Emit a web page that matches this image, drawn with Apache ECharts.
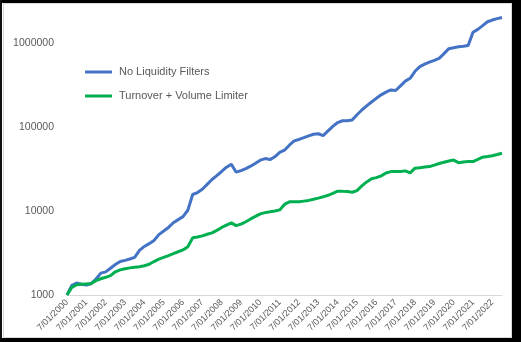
<!DOCTYPE html>
<html>
<head>
<meta charset="utf-8">
<script src="https://cdn.jsdelivr.net/npm/echarts@6/dist/echarts.min.js"></script>
<style>
html,body{margin:0;padding:0;background:#fff;}
#c{width:521px;height:342px;}
</style>
</head>
<body>
<div id="c"></div>
<script>
// Quarterly categories from 7/01/2000 to 1/01/2023
const startYear = 2000;
const quarterMonths = [7, 10, 1, 4];
const categories = [];
for (let i = 0; i < 91; i++) {
  const m = quarterMonths[i % 4];
  const y = startYear + Math.floor((i + 2) / 4);
  categories.push(m + '/01/' + y);
}

const seriesNames = ['No Liquidity Filters', 'Turnover + Volume Limiter'];

const noLiquidity = [
  1000,1302,1391,1345,1318,1364,1552,1825,1887,2083,
  2306,2504,2588,2690,2810,3405,3792,4095,4470,5243,
  5787,6390,7271,7917,8598,10250,15780,16630,18200,20830,
  23830,26520,29690,33410,36280,29120,30430,32060,34340,37190,
  40500,42320,41170,44460,50040,53300,61150,68820,71520,75140,
  78960,82500,83630,79620,90330,102500,113800,119600,119700,121900,
  141000,160500,179600,199800,221300,243600,262400,278700,274200,311900,
  354900,383200,464700,528800,566200,598200,628600,662200,755500,864700,
  888700,910900,925900,943600,1357000,1469000,1627000,1810000,1897000,1971000,
  2037000
];

const turnoverVolume = [
  1000,1232,1327,1342,1357,1371,1485,1561,1626,1704,
  1892,1993,2060,2106,2141,2170,2231,2325,2504,2674,
  2810,2953,3110,3278,3443,3760,4801,4908,5073,5300,
  5508,5901,6390,6807,7251,6714,6998,7473,8071,8646,
  9260,9596,9809,10050,10340,12020,12910,12980,12900,13160,
  13420,13830,14290,14810,15440,16310,17280,17200,17140,16810,
  17560,19980,22300,24290,25110,26300,28490,29610,29600,29600,
  30180,28560,32500,32950,33500,33960,35390,36980,38320,39610,
  40610,37800,38430,38970,39000,41400,43980,44840,45830,47360,
  49080
];

const yMin = 1000;
const yMax = 2500000;

const chart = echarts.init(document.getElementById('c'), null, {renderer: 'canvas'});
chart.setOption({
  animation: false,
  backgroundColor: '#ffffff',
  textStyle: {fontFamily: 'Liberation Sans, Arial, sans-serif'},
  grid: {left: 67, right: 19, top: 10, height: 285, containLabel: false},
  legend: {
    orient: 'vertical',
    left: 85,
    top: 65,
    padding: 0,
    itemGap: 10,
    itemWidth: 27,
    itemHeight: 3,
    icon: 'rect',
    textStyle: {color: '#595959', fontSize: 11, lineHeight: 14, padding: [0, 0, 0, 2], fontFamily: 'Liberation Sans, Arial, sans-serif'},
    data: seriesNames
  },
  xAxis: {
    type: 'category',
    data: categories,
    boundaryGap: false,
    axisLine: {show: true, lineStyle: {color: '#d9d9d9', width: 1}},
    axisTick: {show: false},
    splitLine: {show: false},
    axisLabel: {
      interval: 3,
      rotate: 45,
      margin: 6,
      color: '#595959',
      fontSize: 9,
      fontFamily: 'Liberation Sans, Arial, sans-serif'
    }
  },
  yAxis: {
    type: 'log',
    logBase: 10,
    min: yMin,
    max: yMax,
    axisLine: {show: false},
    axisTick: {show: false},
    splitLine: {show: false},
    axisLabel: {
      showMaxLabel: false,
      margin: 13,
      color: '#595959',
      fontSize: 10.5,
      fontFamily: 'Liberation Sans, Arial, sans-serif',
      formatter: function (v) { return String(Math.round(v)); }
    }
  },
  series: [
    {
      name: seriesNames[0],
      type: 'line',
      data: noLiquidity,
      showSymbol: false,
      symbol: 'none',
      lineStyle: {color: '#4472C4', width: 3},
      itemStyle: {color: '#4472C4'}
    },
    {
      name: seriesNames[1],
      type: 'line',
      data: turnoverVolume,
      showSymbol: false,
      symbol: 'none',
      lineStyle: {color: '#00B050', width: 3},
      itemStyle: {color: '#00B050'}
    }
  ],
  graphic: [
    {type: 'rect', shape: {x: 3.5, y: 3.5, width: 508, height: 334}, style: {fill: null, stroke: '#d9d9d9', lineWidth: 1}, silent: true, z: 100},
    {type: 'rect', shape: {x: 0, y: 0, width: 521, height: 3}, style: {fill: '#000'}, silent: true, z: 101},
    {type: 'rect', shape: {x: 0, y: 0, width: 2, height: 342}, style: {fill: '#111'}, silent: true, z: 101},
    {type: 'rect', shape: {x: 512, y: 0, width: 9, height: 342}, style: {fill: '#000'}, silent: true, z: 101},
    {type: 'rect', shape: {x: 0, y: 338, width: 521, height: 4}, style: {fill: '#000'}, silent: true, z: 101}
  ]
});
</script>
</body>
</html>
